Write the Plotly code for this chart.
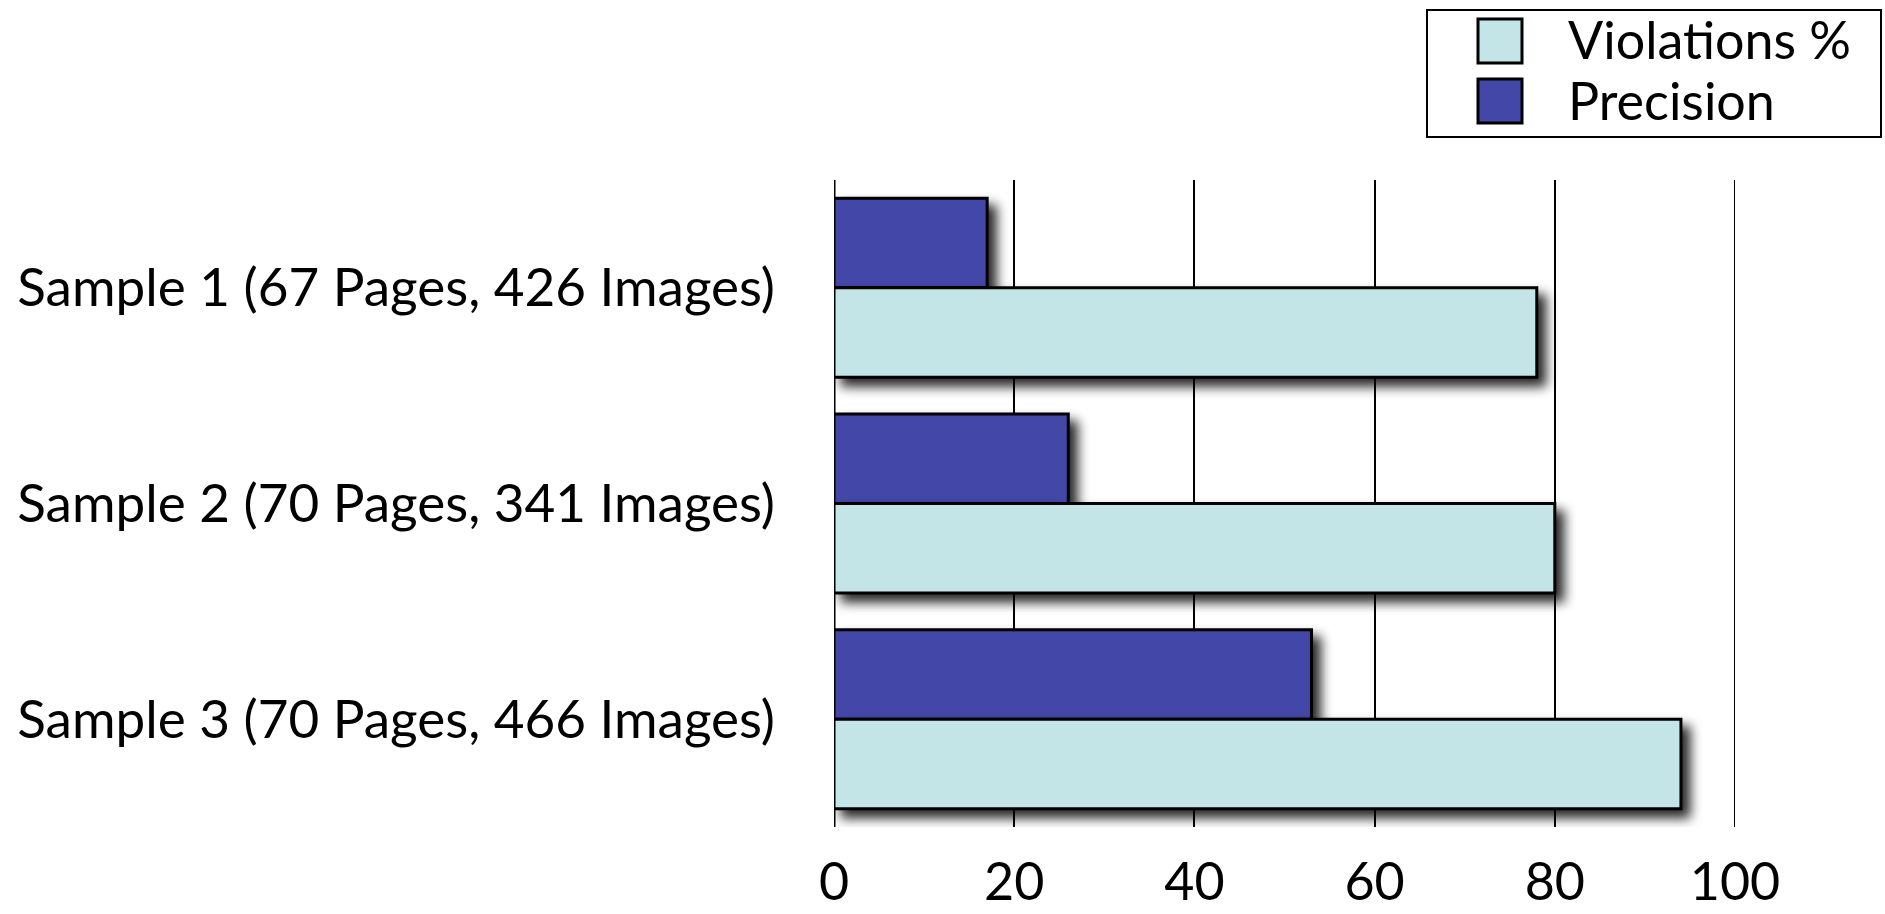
import plotly.graph_objects as go

# ---- data ----
categories = [
    "Sample 1 (67 Pages, 426 Images)",
    "Sample 2 (70 Pages, 341 Images)",
    "Sample 3 (70 Pages, 466 Images)",
]
series_names = ["Precision", "Violations %"]
precision = [17, 26, 53]
violations = [78, 80, 94]
x_ticks = [0, 20, 40, 60, 80, 100]

# ---- style ----
W, H = 1885, 914
M_L, M_R, M_T, M_B = 834, 150, 180, 87
FONT = "Lato, 'Open Sans', sans-serif"
FS = 53
COL_PREC = "#4347a8"
COL_VIOL = "#c4e5e8"

fig = go.Figure()
fig.add_trace(go.Bar(
    y=categories, x=precision, name=series_names[0], orientation="h",
    marker=dict(color=COL_PREC, line=dict(color="black", width=3)),
    showlegend=False,
))
fig.add_trace(go.Bar(
    y=categories, x=violations, name=series_names[1], orientation="h",
    marker=dict(color=COL_VIOL, line=dict(color="black", width=3)),
    showlegend=False,
))

fig.update_layout(
    width=W, height=H, autosize=False,
    margin=dict(l=M_L, r=M_R, t=M_T, b=M_B, pad=0),
    paper_bgcolor="white", plot_bgcolor="white",
    barmode="group", bargap=0.17, bargroupgap=0,
    font=dict(family=FONT, size=FS, color="black"),
    showlegend=False,
)
fig.update_xaxes(
    range=[0, 100], tickvals=x_ticks, ticktext=[str(v) for v in x_ticks],
    showgrid=True, gridcolor="black", gridwidth=2,
    zeroline=False, showline=False, ticks="", ticklabelstandoff=20,
    tickfont=dict(family=FONT, size=FS - 1), automargin=False,
)
fig.update_yaxes(
    autorange="reversed", showgrid=False, zeroline=False,
    showline=False, ticks="", ticklabelstandoff=58,
    tickfont=dict(family=FONT, size=FS), automargin=False,
)
# vertical axis line at x = 0 and the closing gridline at the range end
fig.add_shape(type="line", xref="x", yref="paper", x0=x_ticks[0], x1=x_ticks[0], y0=0, y1=1,
              line=dict(color="black", width=3), layer="below")
fig.add_shape(type="line", xref="x", yref="paper", x0=x_ticks[-1], x1=x_ticks[-1], y0=0, y1=1,
              line=dict(color="black", width=2), layer="below")


# ---- legend drawn in pixel space ----
def to_paper(xp, yp):
    return (xp - M_L) / (W - M_L - M_R), (H - M_B - yp) / (H - M_T - M_B)


def add_rect(x0, y0, x1, y1, fill, lw):
    px0, py1 = to_paper(x0, y0)
    px1, py0 = to_paper(x1, y1)
    fig.add_shape(type="rect", xref="paper", yref="paper",
                  x0=px0, x1=px1, y0=py0, y1=py1,
                  fillcolor=fill, line=dict(color="black", width=lw))


add_rect(1427, 10, 1881, 137, "white", 2)
legend_items = [(series_names[1], COL_VIOL, 41, 39), (series_names[0], COL_PREC, 101, 100)]
for label, col, cy, ty in legend_items:
    add_rect(1478, cy - 22, 1522, cy + 22, col, 3)
    ax, ay = to_paper(1566, ty)
    fig.add_annotation(xref="paper", yref="paper", x=ax, y=ay, text=label,
                       showarrow=False, xanchor="left", yanchor="middle",
                       font=dict(family=FONT, size=FS - 1, color="black"))

shadow_js = """
(function(){
  function apply(){
    var gd = document.querySelector('.plotly-graph-div');
    if(!gd) return;
    var svg = gd.querySelector('svg.main-svg');
    var ns = 'http://www.w3.org/2000/svg';
    if(!document.getElementById('barShadow')){
      var defs = svg.querySelector('defs');
      if(!defs){ defs = document.createElementNS(ns,'defs'); svg.insertBefore(defs, svg.firstChild); }
      var f = document.createElementNS(ns,'filter');
      f.setAttribute('id','barShadow');
      f.setAttribute('x','-10%'); f.setAttribute('y','-30%');
      f.setAttribute('width','130%'); f.setAttribute('height','180%');
      f.innerHTML = '<feGaussianBlur in="SourceAlpha" stdDeviation="6" result="blur"/>' +
        '<feOffset in="blur" dx="8" dy="8" result="off"/>' +
        '<feComponentTransfer in="off" result="shade"><feFuncA type="linear" slope="0.85"/></feComponentTransfer>' +
        '<feMerge><feMergeNode in="shade"/><feMergeNode in="SourceGraphic"/></feMerge>';
      defs.appendChild(f);
    }
    gd.querySelectorAll('.barlayer .point path').forEach(function(p){
      p.setAttribute('filter','url(#barShadow)');
    });
  }
  apply();
  setTimeout(apply, 50);
  var gd = document.querySelector('.plotly-graph-div');
  if(gd && gd.on) gd.on('plotly_afterplot', apply);
})();
"""

fig.write_html("out.html", post_script=shadow_js, config={"displayModeBar": False})
